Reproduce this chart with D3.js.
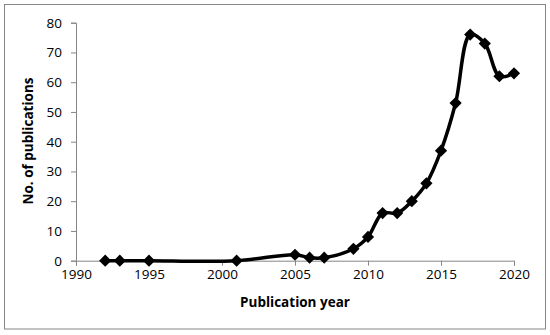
<!DOCTYPE html>
<html>
<head>
<meta charset="utf-8">
<script src="https://cdn.jsdelivr.net/npm/d3@7"></script>
<style>
    body { margin: 0; background: #fff; }
    svg { display: block; font-family: "Open Sans", sans-serif; }
</style>
</head>
<body>
<div class="canvas"></div>
<script>
// Data
const years = [1992, 1993, 1995, 2001, 2005, 2006, 2007, 2009, 2010, 2011, 2012, 2013, 2014, 2015, 2016, 2017, 2018, 2019, 2020];
const publications = [0, 0, 0, 0, 2, 1, 1, 4, 8, 16, 16, 20, 26, 37, 53, 76, 73, 62, 63];
const xTicks = [1990, 1995, 2000, 2005, 2010, 2015, 2020];
const yTicks = [0, 10, 20, 30, 40, 50, 60, 70, 80];

const data = years.map((year, i) => ({ year, value: publications[i] }));

// Dimensions
const dims = {
    svgWidth: 550,
    svgHeight: 335,
    marginTop: 22.7,
    marginLeft: 76,
    marginRight: 36,
    marginBottom: 74.3
};
dims.graphWidth = dims.svgWidth - dims.marginLeft - dims.marginRight;
dims.graphHeight = dims.svgHeight - dims.marginTop - dims.marginBottom;

const svg = d3.select('.canvas')
    .append('svg')
    .attr('width', dims.svgWidth)
    .attr('height', dims.svgHeight);

// Outer chart frame
svg.append('rect')
    .attr('x', 4.5)
    .attr('y', 4.5)
    .attr('width', 541)
    .attr('height', 324.5)
    .attr('fill', '#fff')
    .attr('stroke', '#868686')
    .attr('stroke-width', 1);

const graph = svg.append('g')
    .attr('transform', `translate(${dims.marginLeft}, ${dims.marginTop})`);

// Scales
const xScale = d3.scaleLinear()
    .domain([1990, 2020])
    .range([0, dims.graphWidth]);

const yScale = d3.scaleLinear()
    .domain([0, 80])
    .range([dims.graphHeight, 0]);

// Axes
const xAxis = d3.axisBottom(xScale)
    .tickValues(xTicks)
    .tickSize(5)
    .tickPadding(4)
    .tickFormat(d => d);

const yAxis = d3.axisLeft(yScale)
    .tickValues(yTicks)
    .tickSize(5)
    .tickPadding(9);

const xAxisGroup = graph.append('g')
    .attr('class', 'x-axis')
    .attr('transform', `translate(0, ${dims.graphHeight})`)
    .call(xAxis);

const yAxisGroup = graph.append('g')
    .attr('class', 'y-axis')
    .call(yAxis);

[xAxisGroup, yAxisGroup].forEach(g => {
    g.select('.domain').attr('stroke', '#868686').attr('stroke-width', 1);
    g.selectAll('.tick line').attr('stroke', '#868686');
    g.selectAll('.tick text')
        .attr('fill', '#000')
        .style('font-size', '13.5px')
        .style('font-family', '"Open Sans", sans-serif');
});

// Axis titles
svg.append('text')
    .attr('x', 295)
    .attr('y', 307)
    .attr('text-anchor', 'middle')
    .style('font-size', '13.5px')
    .style('font-weight', 'bold')
    .text('Publication year');

svg.append('text')
    .attr('transform', 'translate(33, 141) rotate(-90)')
    .attr('text-anchor', 'middle')
    .style('font-size', '13.5px')
    .style('font-weight', 'bold')
    .text('No. of publications');

// Smoothed line
const line = d3.line()
    .x(d => xScale(d.year))
    .y(d => yScale(d.value))
    .curve(d3.curveCatmullRom.alpha(0.5));

graph.append('path')
    .datum(data)
    .attr('fill', 'none')
    .attr('stroke', '#000')
    .attr('stroke-width', 3.5)
    .attr('stroke-linejoin', 'round')
    .attr('d', line);

// Diamond markers
const diamond = d3.symbol().type(d3.symbolDiamond2).size(95);

graph.selectAll('.marker')
    .data(data)
    .enter()
    .append('path')
        .attr('class', 'marker')
        .attr('transform', d => `translate(${xScale(d.year)}, ${yScale(d.value)})`)
        .attr('d', diamond)
        .attr('fill', '#000');
</script>
</body>
</html>
